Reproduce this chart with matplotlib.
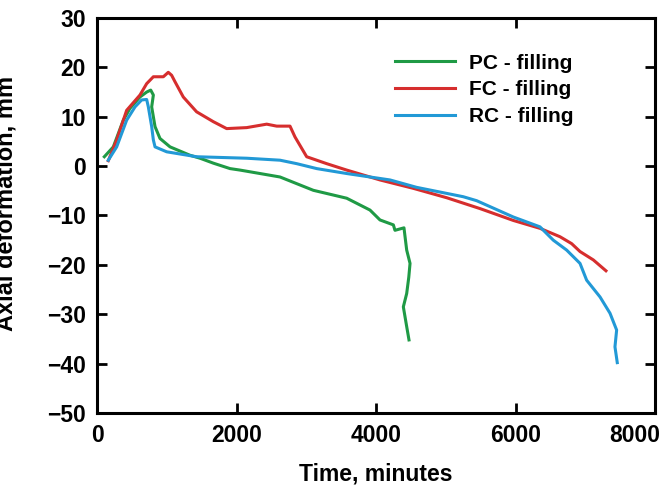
import matplotlib
matplotlib.use("Agg")
import matplotlib.pyplot as plt
from matplotlib.transforms import ScaledTranslation

# PC - filling (green)
pc_t = [105, 234, 377, 473, 616, 712, 770, 808, 784, 832, 903, 1047, 1333, 1477,
        1668, 1907, 2050, 2624, 3102, 3580, 3914, 4057, 4249, 4272, 4401, 4440,
        4488, 4470, 4440, 4392, 4440, 4473]
pc_d = [1.9, 3.9, 9.3, 11.7, 14.0, 15.0, 15.4, 14.4, 12.0, 8.0, 5.6, 3.9, 2.2, 1.6,
        0.6, -0.5, -0.8, -2.2, -4.9, -6.5, -8.9, -10.9, -11.9, -13.0, -12.5, -17.0,
        -19.7, -22.5, -25.8, -28.5, -32.5, -35.2]

# FC - filling (red)
fc_t = [162, 282, 425, 616, 712, 808, 951, 1022, 1070, 1118, 1237, 1428, 1668, 1859,
        2146, 2433, 2576, 2767, 2839, 3006, 3293, 3580, 4057, 4535, 5013, 5491, 5968,
        6351, 6638, 6805, 6925, 7116, 7297]
fc_d = [1.1, 5.3, 11.3, 14.4, 16.7, 18.1, 18.1, 19.0, 18.4, 17.1, 14.0, 11.0, 9.0, 7.6,
        7.8, 8.5, 8.1, 8.1, 5.9, 1.9, 0.5, -0.8, -2.8, -4.5, -6.4, -8.6, -11.0,
        -12.6, -14.3, -15.7, -17.3, -19.0, -21.2]

# RC - filling (blue)
rc_t = [162, 282, 425, 545, 640, 712, 736, 784, 808, 832, 999, 1428, 2146, 2624, 2863,
        3150, 3580, 4201, 4583, 5252, 5443, 5968, 6351, 6542, 6733, 6925, 7020, 7212,
        7355, 7450, 7426, 7459]
rc_d = [1.2, 3.9, 9.3, 12.0, 13.4, 13.5, 12.0, 8.0, 5.3, 3.9, 2.9, 1.9, 1.6, 1.2, 0.5,
        -0.5, -1.5, -2.8, -4.3, -6.2, -7.0, -10.3, -12.3, -15.0, -17.0, -19.7, -23.1,
        -26.5, -29.8, -33.2, -36.6, -39.8]

labels = ["PC - filling", "FC - filling", "RC - filling"]
x_ticks = [0, 2000, 4000, 6000, 8000]
y_ticks = [-50, -40, -30, -20, -10, 0, 10, 20, 30]

plt.rcParams["font.family"] = ["Liberation Sans", "DejaVu Sans"]
plt.rcParams["font.weight"] = "bold"

fig = plt.figure(figsize=(6.62, 4.98), dpi=100)
ax = fig.add_axes([97 / 662, 1 - 413 / 498, 558 / 662, 395 / 498])

ax.plot(pc_t, pc_d, color="#1f9a45", lw=2.2, label=labels[0])
ax.plot(fc_t, fc_d, color="#d62e2e", lw=2.2, label=labels[1])
ax.plot(rc_t, rc_d, color="#2299d6", lw=2.2, label=labels[2])

ax.set_xlim(0, 8000)
ax.set_ylim(-50, 30)
ax.set_xticks(x_ticks)
ax.set_yticks(y_ticks)
ax.set_yticklabels([str(v).replace("-", "\u2212") for v in y_ticks])

for s in ax.spines.values():
    s.set_linewidth(2.2)
ax.tick_params(direction="in", length=7, width=2, labelsize=16.5,
               top=True, right=True, pad=8)

# last x label sits left of its tick so it stays inside the figure
last = ax.get_xticklabels()[-1]
last.set_horizontalalignment("right")
last.set_transform(last.get_transform() + ScaledTranslation(5 / 100, 0, fig.dpi_scale_trans))

ax.set_xlabel("Time, minutes", fontsize=16.5, fontweight="bold")
ax.set_ylabel("Axial deformation, mm", fontsize=17, fontweight="bold")
ax.yaxis.set_label_coords(-0.143, 0.53)
ax.xaxis.set_label_coords(0.5, -0.125)

ax.legend(loc="upper left", bbox_to_anchor=(0.534, 0.91), frameon=False,
          fontsize=15, handlelength=2.9, handletextpad=0.65, labelspacing=0.38,
          borderpad=0, borderaxespad=0)

fig.savefig("out.png", dpi=100)
